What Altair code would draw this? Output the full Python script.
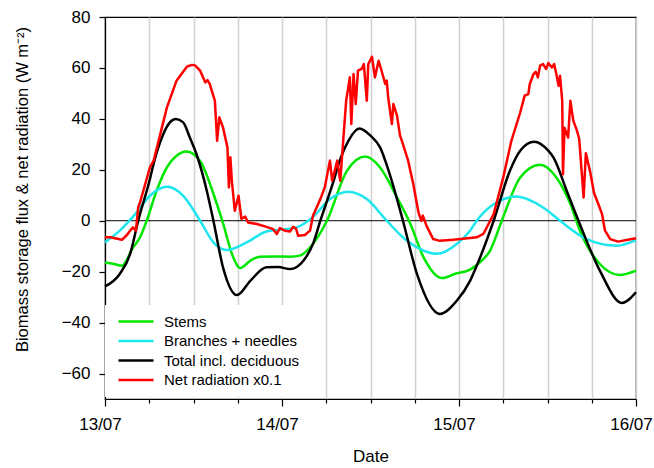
import altair as alt
import pandas as pd

# hours since 13/07 00:00
STEMS_H = [0, 1.2, 2.3, 2.9, 3.6, 4.75, 5.65, 7.0, 8.4, 9.7, 11.0, 12.9, 14.7, 15.9, 17.4, 18.3,
           19.7, 21.0, 23.0, 25.1, 26.4, 27.8, 30.1, 32.8, 35.3, 37.3, 39.6, 41.4, 43.2, 45.7,
           47.5, 49.5, 50.8, 52.2, 53.8, 56.3, 59.0, 61.2, 63.1, 64.4, 67.1, 69.8, 72.0]
STEMS_V = [-16.4, -17.0, -17.7, -15.7, -11.5, -6.5, 0.0, 11.8, 21.0, 25.5, 27.2, 23.5, 10.6, 0.0, -14.4, -18.6,
           -15.7, -14.1, -14.0, -14.1, -13.7, -10.5, 0.0, 19.6, 25.2, 20.9, 9.1, -1.2, -14.4, -22.5,
           -20.8, -19.2, -16.4, -11.8, 0.0, 17.0, 22.0, 17.0, 6.6, -3.9, -17.0, -21.3, -19.6]

BRANCH_H = [0, 2.0, 4.3, 6.1, 8.4, 10.6, 12.9, 14.7, 16.5, 19.2, 21.9, 23.5, 26.0, 28.2, 30.5, 33.0,
            35.5, 38.2, 40.9, 43.0, 45.0, 47.7, 49.5, 50.4, 52.7, 55.8, 59.4, 61.7, 65.3, 69.4, 72.0]
BRANCH_V = [-8.5, -3.9, 3.3, 9.8, 13.3, 9.8, 0.0, -8.5, -11.5, -8.5, -4.2, -3.6, -2.6, 1.5, 8.5, 11.4,
            8.5, 0.0, -7.8, -11.5, -13.0, -9.1, -3.9, 0.0, 6.5, 9.5, 5.2, 0.0, -7.2, -9.8, -7.6]

TOTAL_H = [0, 2.0, 3.4, 4.5, 6.1, 6.6, 7.9, 8.8, 9.6, 10.6, 11.5, 12.4, 13.8, 14.7, 16.0, 17.9,
           19.7, 21.9, 23.5, 25.1, 26.9, 28.2, 29.2, 31.0, 31.9, 33.0, 34.5, 36.0, 37.3, 38.6,
           40.4, 42.3, 45.4, 47.7, 49.5, 50.4, 52.7, 54.9, 56.3, 58.2, 60.1, 60.8, 62.6, 64.2,
           67.1, 70.1, 72.0]
TOTAL_V = [-25.8, -20.9, -13.1, 0.0, 16.5, 22.5, 34.0, 38.6, 39.9, 38.6, 32.7, 26.2, 11.8, 0.0, -18.3, -29.2,
           -23.6, -18.3, -18.2, -19.0, -15.7, -9.1, 0.0, 15.7, 24.2, 31.4, 36.2, 33.4, 28.8, 18.3,
           0.0, -20.9, -36.6, -31.4, -23.6, -17.7, 0.0, 19.6, 27.5, 31.0, 27.5, 24.9, 11.8, 0.0,
           -19.6, -32.3, -28.1]

RAD_H = [0, 0.7, 1.5, 2.3, 3.0, 3.4, 3.8, 4.2, 4.5, 4.75, 6.1, 6.6, 8.4, 9.7, 11.1, 11.8, 12.2, 12.9,
         13.6, 13.9, 14.2, 14.9, 15.2, 15.5, 16.0, 16.6, 16.8, 17.0, 17.2, 17.6, 18.1, 18.5, 19.0,
         19.4, 20.6, 21.9, 22.8, 23.3, 23.7, 24.4, 25.1, 25.5, 25.9, 26.2, 27.1, 27.8, 28.2, 29.2,
         29.8, 30.5, 30.8, 31.5, 31.9, 32.3, 32.5, 32.7, 33.2, 33.4, 33.7, 34.0, 34.3, 34.8, 35.1,
         35.5, 35.7, 36.2, 36.6, 37.1, 37.5, 38.0, 38.2, 38.4, 38.9, 39.1, 39.6, 40.0, 40.4, 41.1,
         41.8, 42.5, 42.9, 43.1, 43.6, 44.5, 45.4, 47.2, 49.5, 50.4, 51.3, 52.7, 54.0, 55.1, 56.3,
         56.9, 57.4, 57.6, 58.1, 58.4, 58.7, 59.0, 59.4, 59.8, 60.1, 60.6, 60.9, 61.2, 61.5, 61.7,
         62.0, 62.1, 62.3, 62.8, 63.1, 63.5, 64.0, 64.3, 64.9, 65.2, 65.8, 66.3, 66.9, 67.4, 67.8,
         68.5, 69.6, 70.7, 72.0]
RAD_V = [-6.5, -6.5, -7.0, -7.5, -5.5, -3.9, -2.6, -3.9, 5.2, 7.2, 21.0, 23.6, 44.5, 55.0, 60.5, 61.2, 61.0, 58.9,
         54.3, 55.2, 53.7, 47.1, 31.4, 40.6, 36.6, 28.8, 13.1, 24.9, 15.7, 3.9, 9.8, 0.7, 1.6,
         -0.7, -1.3, -2.4, -3.3, -5.2, -2.9, -3.9, -4.2, -2.4, -3.1, -5.9, -5.6, -3.9, 2.0, 8.5,
         13.1, 23.6, 15.7, 23.6, 15.7, 31.4, 39.3, 47.1, 56.3, 38.0, 57.6, 45.8, 58.9, 59.6, 61.5,
         47.1, 61.5, 64.4, 56.3, 62.8, 58.9, 53.7, 55.0, 48.4, 38.0, 45.8, 41.2, 33.5, 30.1, 23.6,
         14.4, 3.3, 0.0, 2.0, -2.0, -7.2, -7.9, -7.5, -6.8, -6.5, -5.2, 2.6, 17.0, 31.4, 42.5,
         49.1, 49.7, 53.7, 57.6, 58.5, 56.3, 60.9, 61.5, 59.6, 61.9, 60.2, 61.5, 57.6, 53.0, 56.9,
         47.0, 18.3, 36.5, 32.7, 47.1, 39.3, 35.3, 32.1, 9.1, 26.5, 19.0, 11.0, 6.5, 2.6, -3.9,
         -7.2, -8.2, -7.6, -6.9]

SERIES = ["Stems", "Branches + needles", "Total incl. deciduous", "Net radiation x0.1"]
COLORS = ["#00e600", "#1ee6ee", "#000000", "#ff0000"]
WIDTHS = [2.5, 2.5, 3.2, 2.2]
DAY_LABELS = ["13/07", "14/07", "15/07", "16/07"]
Y_TICKS = [-60, -40, -20, 0, 20, 40, 60, 80]

FONT = "Liberation Sans"

smooth_rows = []
for name, hs, vs in [(SERIES[0], STEMS_H, STEMS_V), (SERIES[1], BRANCH_H, BRANCH_V),
                     (SERIES[2], TOTAL_H, TOTAL_V)]:
    for h, v in zip(hs, vs):
        smooth_rows.append({"series": name, "h": h, "v": v})
smooth_df = pd.DataFrame(smooth_rows)
rad_df = pd.DataFrame({"series": SERIES[3], "h": RAD_H, "v": RAD_V})

label_arr = "[" + ",".join("'" + s + "'" for s in DAY_LABELS) + "]"
x_axis = alt.Axis(
    values=list(range(0, 73, 6)),
    labelExpr="datum.value % 24 === 0 ? " + label_arr + "[datum.value / 24] : ''",
    tickSize={"condition": {"test": "datum.value % 24 === 0", "value": 7}, "value": 4},
    grid=True, gridColor="#d0d0d0", gridWidth=1.5,
    title="Date", titleFontSize=17, titleFont=FONT, titleFontWeight="normal", titleColor="black",
    titlePadding=16,
    labelFontSize=17, labelFont=FONT, labelColor="black", labelPadding=10, labelFlush=False,
    labelOffset=-5,
    domainColor="black", tickColor="black", domainWidth=1.2, tickWidth=1.2,
)
y_axis = alt.Axis(
    values=Y_TICKS, grid=False, tickSize=6,
    title="Biomass storage flux & net radiation (W m\u207b\u00b2)",
    titleFontSize=16.5, titleFont=FONT, titleFontWeight="normal", titleColor="black",
    titleX=-83, titleY=172, titleAlign="center", titleBaseline="middle", titleAngle=270,
    labelFontSize=17, labelFont=FONT, labelColor="black", labelPadding=9,
    domainColor="black", tickColor="black", domainWidth=1.2, tickWidth=1.2,
)

xs = alt.Scale(domain=[0, 72], nice=False, zero=False)
ys = alt.Scale(domain=[-70, 80], nice=False, zero=False)

color = alt.Color("series:N", scale=alt.Scale(domain=SERIES, range=COLORS),
                  legend=alt.Legend(title=None, orient="none", legendX=0, legendY=288,
                                    fillColor="white", padding=9, symbolType="M-0.6,0H6.4",
                                    symbolSize=100, labelFontSize=15, labelFont=FONT,
                                    labelColor="black", labelOffset=35, rowPadding=3.5))
swidth = alt.StrokeWidth("series:N", scale=alt.Scale(domain=SERIES, range=WIDTHS), legend=None)

zero = alt.Chart(pd.DataFrame({"y0": [0]})).mark_rule(color="black", strokeWidth=1).encode(
    y=alt.Y("y0:Q", scale=ys, axis=y_axis))

smooth = alt.Chart(smooth_df).mark_line(interpolate="monotone").encode(
    x=alt.X("h:Q", scale=xs, axis=x_axis),
    y=alt.Y("v:Q", scale=ys, axis=y_axis),
    color=color, strokeWidth=swidth, detail="series:N")

rad = alt.Chart(rad_df).mark_line(interpolate="linear", strokeJoin="round").encode(
    x=alt.X("h:Q", scale=xs, axis=x_axis),
    y=alt.Y("v:Q", scale=ys, axis=y_axis),
    color=color, strokeWidth=swidth)

chart = alt.layer(zero, smooth, rad).properties(
    width=531, height=382,
    autosize=alt.AutoSizeParams(type="none"),
    padding={"left": 105, "top": 17, "right": 18, "bottom": 69},
    background="white",
).configure_view(stroke="black", strokeWidth=1.2)

chart.save("out.html", embed_options={"renderer": "svg", "actions": False})
